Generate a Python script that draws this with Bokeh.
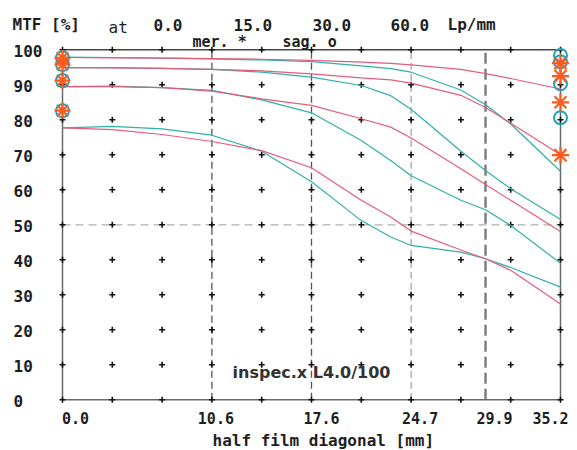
from bokeh.plotting import figure
from bokeh.models import Range1d
from bokeh.embed import file_html
from bokeh.resources import INLINE
from bokeh.core.properties import value

# ---------------- data ----------------
X = [0.0, 3.52, 7.04, 10.56, 14.08, 17.6, 21.12, 23.2, 24.64, 28.16, 29.9, 31.68, 35.2]
MER_1 = [97.8, 97.7, 97.6, 97.5, 97.3, 97.0, 96.5, 96.1, 95.7, 94.4, 93.2, 91.8, 88.8]
SAG_1 = [97.9, 97.8, 97.6, 97.4, 97.1, 96.6, 95.4, 94.6, 93.6, 88.5, 84.3, 78.8, 65.3]
MER_2 = [94.9, 94.8, 94.7, 94.4, 94.0, 93.1, 92.0, 91.4, 90.5, 87.0, 83.5, 79.0, 70.0]
SAG_2 = [94.9, 94.9, 94.7, 94.4, 93.6, 92.2, 89.8, 86.9, 83.0, 71.0, 65.5, 60.3, 51.5]
MER_3 = [89.5, 89.5, 89.2, 88.2, 86.0, 84.1, 80.3, 77.9, 74.8, 66.0, 61.5, 57.0, 48.1]
SAG_3 = [89.5, 89.6, 89.2, 88.4, 85.7, 82.0, 74.1, 68.4, 64.0, 57.0, 54.3, 49.8, 39.0]
MER_4 = [77.7, 77.2, 75.8, 73.8, 71.2, 66.3, 57.0, 52.2, 48.2, 42.8, 40.3, 37.0, 27.4]
SAG_4 = [77.7, 78.1, 77.4, 75.6, 71.0, 62.3, 51.2, 46.5, 44.1, 42.2, 40.3, 37.8, 32.2]

LEFT_MARK = [97.7, 95.8, 91.2, 82.6]
RIGHT_SAG_MARK = [98.4, 96.6, 90.3, 80.6]
RIGHT_MER_MARK = [96.2, 92.5, 85.0, 69.9]

GRID_X = [0.0, 3.52, 7.04, 10.56, 14.08, 17.6, 21.12, 24.64, 28.16, 31.68, 35.2]
GRID_Y = [0, 10, 20, 30, 40, 50, 60, 70, 80, 90, 100]
X_TICKS = [0.0, 10.56, 17.6, 24.64, 29.9, 35.2]
X_TICK_LABELS = ["0.0", "10.6", "17.6", "24.7", "29.9", "35.2"]
FREQS = ["0.0", "15.0", "30.0", "60.0"]
X_MAX = 35.2
Y_MAX = 100

# ---------------- layout ----------------
W, H = 577, 450
PX0, PX1 = 62.0, 560.0      # pixel of x=0 and x=35.2
PY0, PY100 = 399.3, 49.3    # pixel of y=0 and y=100
sx = (PX1 - PX0) / X_MAX
sy = (PY0 - PY100) / Y_MAX


def dx(px):
    return (px - PX0) / sx


def dy(py):
    return (PY0 - py) / sy


p = figure(width=W, height=H,
           x_range=Range1d(dx(0), dx(W)), y_range=Range1d(dy(H), dy(0)),
           output_backend="svg", toolbar_location=None, min_border=0,
           x_axis_location=None, y_axis_location=None,
           outline_line_color=None, background_fill_color="white",
           border_fill_color="white")
p.grid.visible = False

MONO = value("DejaVu Sans Mono")
TXT = "#1e1e1e"

# dashed horizontal at 50
p.segment(x0=[0], y0=[50], x1=[X_MAX], y1=[50], line_color="#b0b0b0",
          line_width=1.2, line_dash="8 5")
# dashed verticals
p.segment(x0=[X_TICKS[1], X_TICKS[2]], y0=[0, 0], x1=[X_TICKS[1], X_TICKS[2]],
          y1=[Y_MAX, Y_MAX], line_color="#555555", line_width=1.3, line_dash="7 4")
p.segment(x0=[X_TICKS[3]], y0=[0], x1=[X_TICKS[3]], y1=[Y_MAX],
          line_color="#8a8a8a", line_width=1.0, line_dash="7 4")
p.segment(x0=[X_TICKS[4]], y0=[0], x1=[X_TICKS[4]], y1=[Y_MAX],
          line_color="#7a7a7a", line_width=2.4, line_dash="11 5")

# frame
p.segment(x0=[0, 0, X_MAX], y0=[0, 0, 0], x1=[X_MAX, 0, X_MAX], y1=[0, Y_MAX, Y_MAX],
          line_color="#6a6a6a", line_width=1.5)
p.segment(x0=[0], y0=[Y_MAX], x1=[X_MAX], y1=[Y_MAX], line_color="#444444", line_width=1.6)

# grid crosses
gx = [x for x in GRID_X for _ in GRID_Y]
gy = [y for _ in GRID_X for y in GRID_Y]
p.scatter(gx, gy, marker="cross", size=6, line_color="#111111", line_width=1.6)

RED = "#e45d78"
TEAL = "#2fb0ab"
for mer, sag in [(MER_1, SAG_1), (MER_2, SAG_2), (MER_3, SAG_3), (MER_4, SAG_4)]:
    p.line(X, sag, line_color=TEAL, line_width=1.2)
    p.line(X, mer, line_color=RED, line_width=1.2)

# markers
CYAN = "#1aa6b8"
ORANGE = "#ff5a1f"
p.scatter([0] * len(LEFT_MARK), LEFT_MARK, marker="circle", size=13,
          fill_color=None, line_color=CYAN, line_width=2)
p.scatter([0] * len(LEFT_MARK), LEFT_MARK, marker="asterisk", size=16,
          line_color=ORANGE, line_width=2.2)
p.scatter([X_MAX] * len(RIGHT_SAG_MARK), RIGHT_SAG_MARK, marker="circle", size=13,
          fill_color=None, line_color=CYAN, line_width=2)
p.scatter([X_MAX] * len(RIGHT_MER_MARK), RIGHT_MER_MARK, marker="asterisk", size=17,
          line_color=ORANGE, line_width=2.2)

# y tick labels
p.text(x=[dx(13)] * len(GRID_Y), y=GRID_Y, text=[str(v) for v in GRID_Y],
       text_font=MONO, text_font_size="16px", text_font_style="bold", text_align="left",
       text_baseline="middle", text_color=TXT, y_offset=1)

# x tick labels
X_LABEL_DX = [13, 4, 10, 9, 9, -10]
for xv, lab, off in zip(X_TICKS, X_TICK_LABELS, X_LABEL_DX):
    p.text(x=[xv], y=[dy(417)], text=[lab], text_font=MONO, text_font_size="15px",
           text_font_style="bold", text_align="center", text_baseline="middle",
           text_color=TXT, x_offset=off)

p.text(x=[dx(212)], y=[dy(440)], text=["half film diagonal [mm]"], text_font=MONO,
       text_font_size="16px", text_font_style="bold", text_align="left",
       text_baseline="middle", text_color=TXT)

# header
p.text(x=[dx(12)], y=[dy(24)], text=["MTF [%]"], text_font=MONO, text_font_size="16px",
       text_font_style="bold", text_align="left", text_baseline="middle", text_color=TXT)
p.text(x=[dx(108)], y=[dy(27)], text=["at"], text_font=MONO, text_font_size="16px",
       text_align="left", text_baseline="middle", text_color=TXT)
for fx, f in zip([153, 233, 312, 390], FREQS):
    p.text(x=[dx(fx)], y=[dy(24)], text=[f], text_font=MONO, text_font_size="16px",
           text_font_style="bold", text_align="left", text_baseline="middle",
           text_color=TXT)
p.text(x=[dx(447)], y=[dy(24)], text=["Lp/mm"], text_font=MONO, text_font_size="16px",
       text_font_style="bold", text_align="left", text_baseline="middle", text_color=TXT)
p.text(x=[dx(192)], y=[dy(41)], text=["mer. *"], text_font=MONO, text_font_size="15px",
       text_font_style="bold", text_align="left", text_baseline="middle", text_color=TXT)
p.text(x=[dx(282)], y=[dy(41)], text=["sag. o"], text_font=MONO, text_font_size="15px",
       text_font_style="bold", text_align="left", text_baseline="middle", text_color=TXT)

p.text(x=[dx(311)], y=[dy(372)], text=["inspec.x L4.0/100"], text_font=value("DejaVu Sans"),
       text_font_size="16px", text_font_style="bold", text_align="center",
       text_baseline="middle", text_color="#333333")

open("out.html", "w").write(file_html(p, INLINE))
